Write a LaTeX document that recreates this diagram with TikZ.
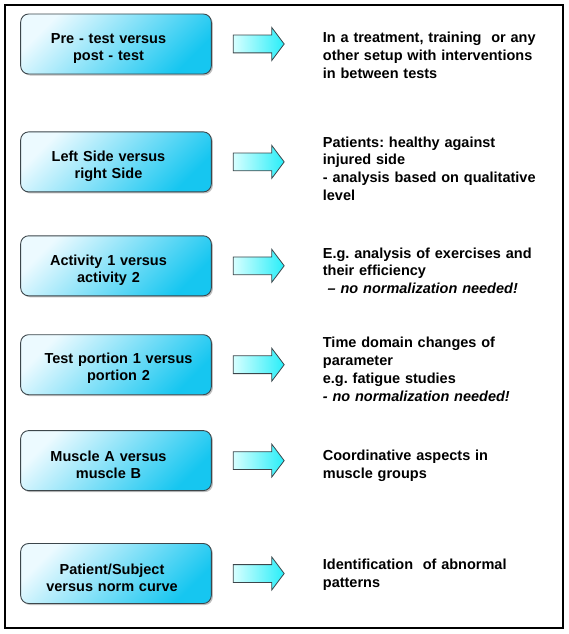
\documentclass[tikz,border=0pt]{standalone}
\usepackage{fontspec}
\setmainfont{Liberation Sans}
\usetikzlibrary{shapes.arrows, positioning, shadows}

\definecolor{boxlight}{RGB}{236,250,255}
\definecolor{boxdark}{RGB}{22,198,240}
\definecolor{arrowlight}{RGB}{215,255,255}
\definecolor{arrowdark}{RGB}{40,238,248}
\definecolor{edgegray}{RGB}{60,70,75}

\frenchspacing

\begin{document}
\begin{tikzpicture}[
    x=1pt, y=-1pt,
    node distance=21pt,
    block/.style={rectangle, draw=edgegray, line width=0.9pt, rounded corners=8pt,
        minimum width=190pt, minimum height=60pt, text width=184pt, align=center,
        execute at begin node={\leftskip=0pt plus 1fil\rightskip=#1 plus 1fil\parfillskip=0pt\rule{0pt}{18.5pt}},
        font=\bfseries\fontsize{14.5}{17}\selectfont,
        top color=boxlight, bottom color=boxdark, shading angle=45,
        drop shadow={shadow xshift=1.5pt, shadow yshift=-1.5pt, fill=black!50, opacity=0.5}},
    block/.default=15pt,
    bigarrow/.style={single arrow, draw=edgegray, line width=0.8pt, inner xsep=0pt, inner ysep=8.5pt,
        minimum height=51pt, single arrow head extend=7.5pt, single arrow tip angle=106,
        single arrow head indent=0pt, left color=arrowlight, right color=arrowdark},
    note/.style={right=38pt of #1, anchor=north west, inner sep=0pt, text width=240pt, align=left,
        font=\bfseries\fontsize{14.5}{17.7}\selectfont}
]

\useasboundingbox (0,0) rectangle (568,634);
\draw[line width=1.2pt] (5,5) rectangle (563,628);

\node[block] (prepost) at (116,44) {Pre - test versus\\post - test};
\node[block, below=57pt of prepost] (sides) {Left Side versus\\right Side};
\node[block, below=43pt of sides] (activity) {Activity 1 versus\\activity 2};
\node[block=-5pt, below=38pt of activity] (portion) {Test portion 1 versus\\portion 2};
\node[block, below=35pt of portion] (muscle) {Muscle A versus\\muscle B};
\node[block=8pt, below=52pt of muscle] (norm) {Patient/Subject\\versus norm curve};

\node[bigarrow, right=of prepost] (arr1) {};
\node[bigarrow, right=of sides] (arr2) {};
\node[bigarrow, right=of activity] (arr3) {};
\node[bigarrow, right=of portion] (arr4) {};
\node[bigarrow, right=of muscle] (arr5) {};
\node[bigarrow, right=of norm] (arr6) {};

\node[note=arr1, yshift=12pt] (txt1) {In a treatment, training\ \ or any\\other setup with interventions\\in between tests};
\node[note=arr2, yshift=25.5pt] (txt2) {Patients: healthy against\\injured side\\- analysis based on qualitative\\level};
\node[note=arr3, yshift=18.5pt] (txt3) {E.g. analysis of exercises and\\their efficiency\\\ \textit{-- no normalization needed!}};
\node[note=arr4, yshift=27.5pt] (txt4) {Time domain changes of\\parameter\\e.g. fatigue studies\\\textit{- no normalization needed!}};
\node[note=arr5, yshift=11pt] (txt5) {Coordinative aspects in\\muscle groups};
\node[note=arr6, yshift=14.5pt] (txt6) {Identification\ \ of abnormal\\patterns};

\end{tikzpicture}
\end{document}
